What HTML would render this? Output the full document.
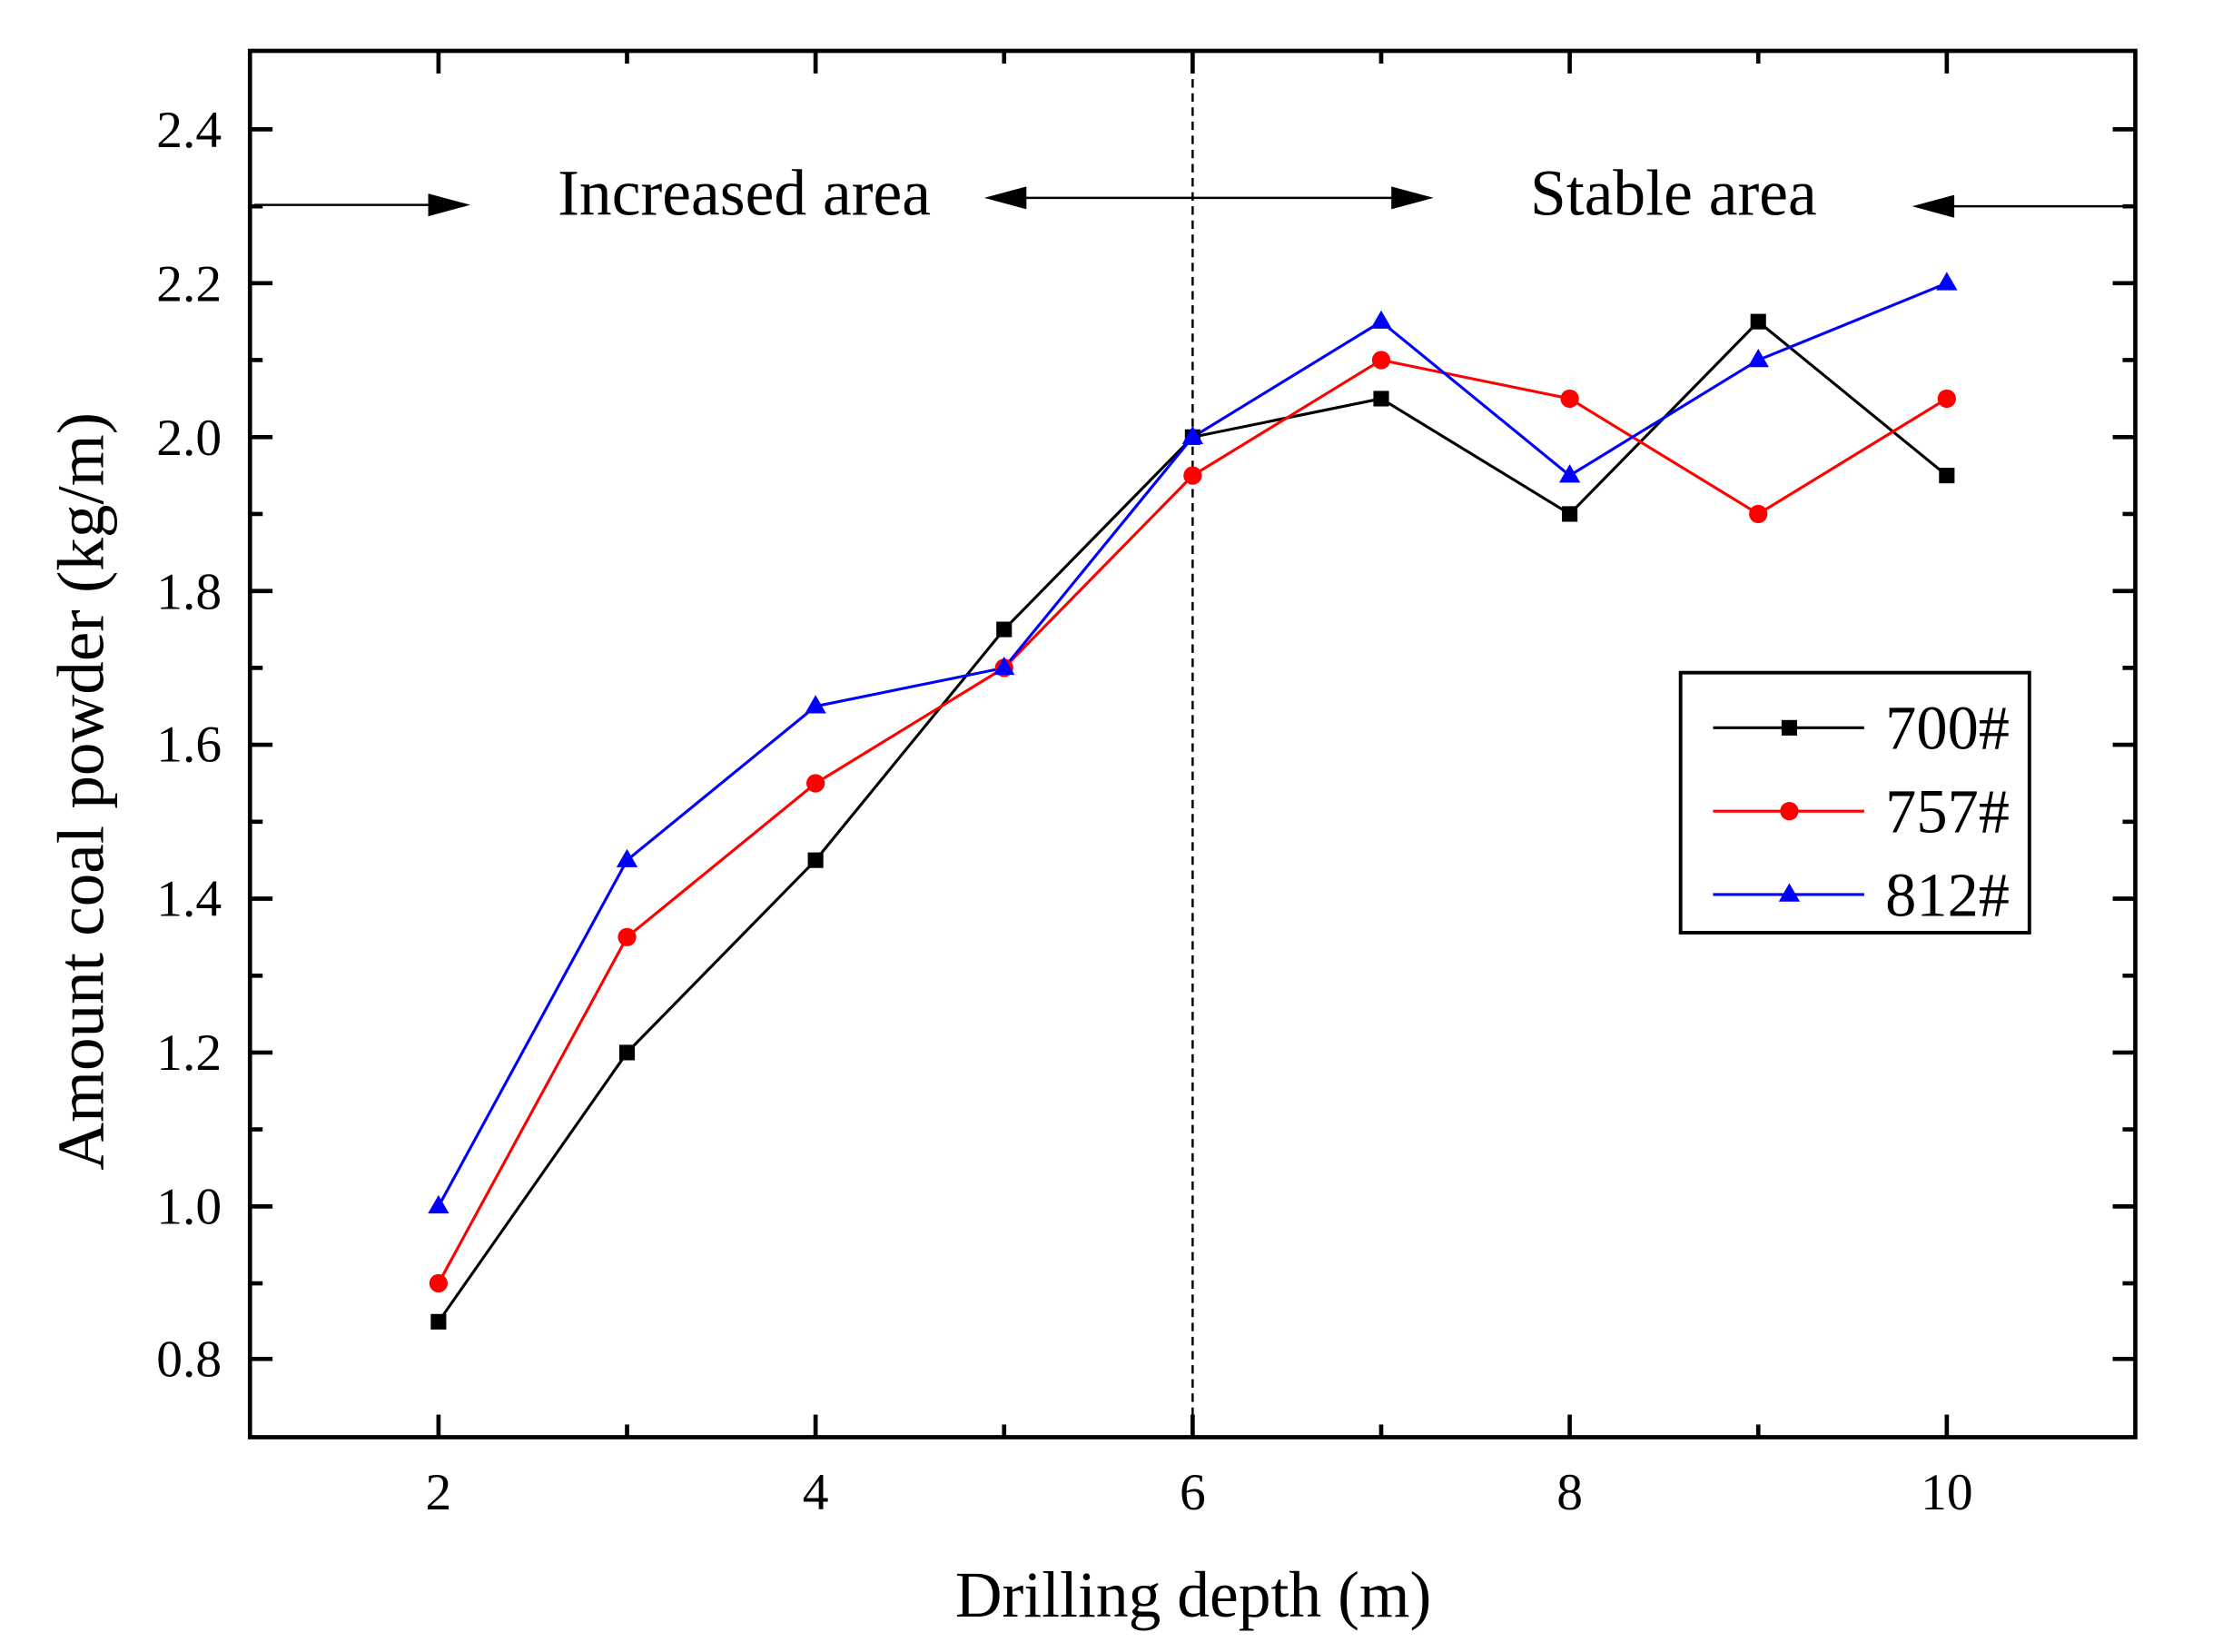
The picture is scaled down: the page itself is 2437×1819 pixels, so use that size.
<!DOCTYPE html>
<html><head><meta charset="utf-8"><style>html,body{margin:0;padding:0;background:#fff}svg{display:block}</style></head>
<body>
<svg id="s" width="2437" height="1819" viewBox="0 0 1567 1169" preserveAspectRatio="none" xmlns="http://www.w3.org/2000/svg" font-family="'Liberation Serif',serif">
<rect width="1567" height="1169" fill="#fff"/>
<g id="ticks" stroke="#000" stroke-width="3"></g>
<line x1="844.5" y1="36" x2="844.5" y2="1017" stroke="#000" stroke-width="1.6" stroke-dasharray="6,4"/>
<rect x="177" y="36" width="1335" height="981" fill="none" stroke="#000" stroke-width="3"/>
<g font-size="37" text-anchor="end">
<text x="157" y="974">0.8</text><text x="157" y="866">1.0</text><text x="157" y="757">1.2</text><text x="157" y="648">1.4</text><text x="157" y="539">1.6</text><text x="157" y="431">1.8</text><text x="157" y="322">2.0</text><text x="157" y="213">2.2</text><text x="157" y="104">2.4</text>
</g>
<g font-size="37" text-anchor="middle">
<text x="310.5" y="1068">2</text><text x="577.5" y="1068">4</text><text x="844.5" y="1068">6</text><text x="1111.5" y="1068">8</text><text x="1378.5" y="1068">10</text>
</g>
<text x="845" y="1144" font-size="46" text-anchor="middle">Drilling depth (m)</text>
<text transform="translate(73,560) rotate(-90)" font-size="47" text-anchor="middle">Amount coal powder (kg/m)</text>
<g stroke="#000" stroke-width="1.6" fill="#000">
<line x1="180" y1="145" x2="312" y2="145"/><polygon points="330,145 304,138 304,152"/>
<line x1="718" y1="140" x2="994" y2="140"/><polygon points="700,140 726,133 726,147"/><polygon points="1012,140 986,133 986,147"/>
<line x1="1375" y1="146" x2="1508" y2="146"/><polygon points="1357,146 1383,139 1383,153"/>
</g>
<text x="527" y="152" font-size="46" text-anchor="middle">Increased area</text>
<text x="1185" y="152" font-size="46" text-anchor="middle">Stable area</text>
<polyline fill="none" stroke="#000" stroke-width="2" points="310.5,935.3 444,744.8 577.5,608.7 711,445.4 844.5,309.3 978,282.1 1111.5,363.7 1245,227.6 1378.5,336.5"/>
<polyline fill="none" stroke="#f00" stroke-width="2" points="310.5,908.1 444,663.1 577.5,554.3 711,472.6 844.5,336.5 978,254.8 1111.5,282.1 1245,363.7 1378.5,282.1"/>
<polyline fill="none" stroke="#00f" stroke-width="2" points="310.5,853.7 444,608.7 577.5,499.8 711,472.6 844.5,309.3 978,227.6 1111.5,336.5 1245,254.8 1378.5,200.4"/>
<g fill="#000">
<rect x="305" y="929.8" width="11" height="11"/><rect x="438.5" y="739.3" width="11" height="11"/><rect x="572" y="603.2" width="11" height="11"/><rect x="705.5" y="439.9" width="11" height="11"/><rect x="839" y="303.8" width="11" height="11"/><rect x="972.5" y="276.6" width="11" height="11"/><rect x="1106" y="358.2" width="11" height="11"/><rect x="1239.5" y="222.1" width="11" height="11"/><rect x="1373" y="331" width="11" height="11"/>
</g>
<g fill="#f00">
<circle cx="310.5" cy="908.1" r="6.5"/><circle cx="444" cy="663.1" r="6.5"/><circle cx="577.5" cy="554.3" r="6.5"/><circle cx="711" cy="472.6" r="6.5"/><circle cx="844.5" cy="336.5" r="6.5"/><circle cx="978" cy="254.8" r="6.5"/><circle cx="1111.5" cy="282.1" r="6.5"/><circle cx="1245" cy="363.7" r="6.5"/><circle cx="1378.5" cy="282.1" r="6.5"/>
</g>
<g fill="#00f">
<polygon points="310.5,845.7 318,858.7 303,858.7"/><polygon points="444,600.7 451.5,613.7 436.5,613.7"/><polygon points="577.5,491.8 585,504.8 570,504.8"/><polygon points="711,464.6 718.5,477.6 703.5,477.6"/><polygon points="844.5,301.3 852,314.3 837,314.3"/><polygon points="978,219.6 985.5,232.6 970.5,232.6"/><polygon points="1111.5,328.5 1119,341.5 1104,341.5"/><polygon points="1245,246.8 1252.5,259.8 1237.5,259.8"/><polygon points="1378.5,192.4 1386,205.4 1371,205.4"/>
</g>
<rect x="1190" y="476" width="247" height="184" fill="#fff" stroke="#000" stroke-width="2.5"/>
<line x1="1213" y1="515" x2="1320" y2="515" stroke="#000" stroke-width="2"/>
<rect x="1261.5" y="509.5" width="11" height="11" fill="#000"/>
<line x1="1213" y1="574" x2="1320" y2="574" stroke="#f00" stroke-width="2"/>
<circle cx="1267" cy="574" r="6.5" fill="#f00"/>
<line x1="1213" y1="633" x2="1320" y2="633" stroke="#00f" stroke-width="2"/>
<polygon points="1267,625 1274.5,638 1259.5,638" fill="#00f"/>
<g font-size="44"><text x="1335" y="530">700#</text><text x="1335" y="589">757#</text><text x="1335" y="648">812#</text></g>
<script>
var t=document.getElementById('ticks'),d='';
var ym=[961.6,853.7,744.8,635.9,527.0,418.2,309.3,200.4,91.5],yn=[908.1,799.2,690.4,581.5,472.6,363.7,254.8,146.0];
ym.forEach(function(y){d+='M177 '+y+'h16M1512 '+y+'h-16';});
yn.forEach(function(y){d+='M177 '+y+'h9M1512 '+y+'h-9';});
[310.5,577.5,844.5,1111.5,1378.5].forEach(function(x){d+='M'+x+' 1017v-16M'+x+' 36v16';});
[444,711,978,1245].forEach(function(x){d+='M'+x+' 1017v-9M'+x+' 36v9';});
var p=document.createElementNS('http://www.w3.org/2000/svg','path');p.setAttribute('d',d);t.appendChild(p);
</script>
</svg>
</body></html>
